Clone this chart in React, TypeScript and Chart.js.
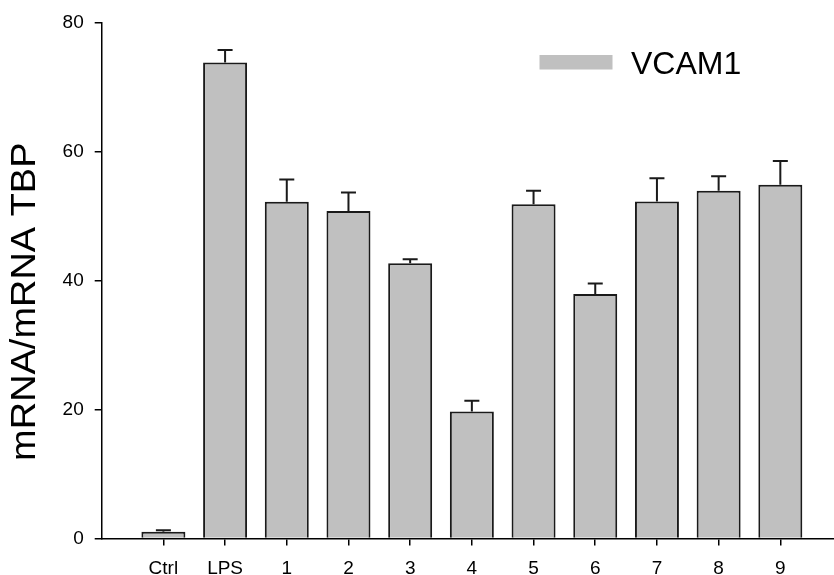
import React, { useEffect, useRef } from "react";
import { Chart, registerables } from "chart.js";

Chart.register(...registerables);

const categories = ["Ctrl", "LPS", "1", "2", "3", "4", "5", "6", "7", "8", "9"];
const values = [1.05, 73.8, 52.2, 50.75, 42.67, 19.7, 51.8, 37.9, 52.25, 53.9, 54.85];
const errors = [0.22, 1.92, 3.45, 2.9, 0.62, 1.65, 2.1, 1.64, 3.6, 2.27, 3.65];
const yTicks = [0, 20, 40, 60, 80];
const seriesLabel = "VCAM1";
const yTitle = "mRNA/mRNA TBP";

const FONT = '"Liberation Sans", Arial, Helvetica, sans-serif';
const BAR_FILL = "#c0c0c0";
const EDGE = "#1a1a1a";

const errorBarPlugin = {
  id: "errorBars",
  afterDatasetsDraw(chart: any) {
    const meta = chart.getDatasetMeta(0);
    const yScale = chart.scales.y;
    const ctx = chart.ctx;
    ctx.save();
    ctx.strokeStyle = EDGE;
    ctx.lineWidth = 2;
    meta.data.forEach((bar: any, i: number) => {
      const x = bar.x;
      const top = bar.y;
      const yErr = yScale.getPixelForValue(values[i] + errors[i]);
      ctx.beginPath();
      ctx.moveTo(x, top);
      ctx.lineTo(x, yErr);
      ctx.moveTo(x - 7.5, yErr);
      ctx.lineTo(x + 7.5, yErr);
      ctx.stroke();
    });
    ctx.restore();
  },
};

const annotationPlugin = {
  id: "legendAndTitle",
  afterDraw(chart: any) {
    const ctx = chart.ctx;
    ctx.save();
    // legend
    ctx.fillStyle = BAR_FILL;
    ctx.fillRect(539.5, 55, 73, 14.5);
    ctx.fillStyle = "#000";
    ctx.font = `32px ${FONT}`;
    ctx.textAlign = "left";
    ctx.textBaseline = "alphabetic";
    ctx.fillText(chart.data.datasets[0].label, 631, 73.5);
    // y axis title
    ctx.translate(25, 301.7);
    ctx.rotate(-Math.PI / 2);
    ctx.scale(1.1, 1);
    ctx.font = `34.5px ${FONT}`;
    ctx.textAlign = "center";
    ctx.textBaseline = "middle";
    ctx.fillText(yTitle, 0, 0);
    ctx.restore();
  },
};

export default function App() {
  const canvasRef = useRef<HTMLCanvasElement | null>(null);

  useEffect(() => {
    if (!canvasRef.current) return;
    const chart = new Chart(canvasRef.current, {
      type: "bar",
      data: {
        datasets: [
          {
            label: seriesLabel,
            data: values.map((v, i) => ({ x: i, y: v })),
            backgroundColor: BAR_FILL,
            borderColor: EDGE,
            borderWidth: 2,
            barPercentage: 0.713,
            categoryPercentage: 1,
          },
        ],
      },
      options: {
        animation: false,
        responsive: true,
        maintainAspectRatio: false,
        layout: { padding: { top: 20.7, right: 0, bottom: 0, left: 0 } },
        plugins: {
          legend: { display: false },
          tooltip: { enabled: false },
        },
        scales: {
          x: {
            type: "linear",
            offset: false,
            min: -1,
            max: 10.87,
            afterBuildTicks: (s: any) => {
              s.ticks = categories.map((_, i) => ({ value: i }));
            },
            afterFit: (s: any) => {
              s.height = 36.5;
            },
            ticks: {
              autoSkip: false,
              maxRotation: 0,
              color: "#000",
              padding: 12,
              font: { family: FONT, size: 19 },
              callback: (v: any) => categories[v] ?? "",
            },
            grid: {
              offset: false,
              drawOnChartArea: false,
              drawTicks: true,
              tickLength: 7,
              color: "#000",
              lineWidth: 1.5,
            },
            border: { display: true, color: "#000", width: 1.5 },
          },
          y: {
            min: 0,
            max: 80,
            afterBuildTicks: (s: any) => {
              s.ticks = yTicks.map((v) => ({ value: v }));
            },
            afterFit: (s: any) => {
              s.width = 101.7;
            },
            ticks: {
              color: "#000",
              padding: 11,
              font: { family: FONT, size: 19 },
            },
            grid: {
              drawOnChartArea: false,
              drawTicks: true,
              tickLength: 7,
              color: "#000",
              lineWidth: 1.5,
            },
            border: { display: true, color: "#000", width: 1.5 },
          },
        },
      },
      plugins: [errorBarPlugin, annotationPlugin],
    } as any);
    return () => chart.destroy();
  }, []);

  return (
    <div style={{ position: "fixed", left: 0, top: 0, width: 834, height: 575, background: "#fff" }}>
      <canvas ref={canvasRef} />
    </div>
  );
}
